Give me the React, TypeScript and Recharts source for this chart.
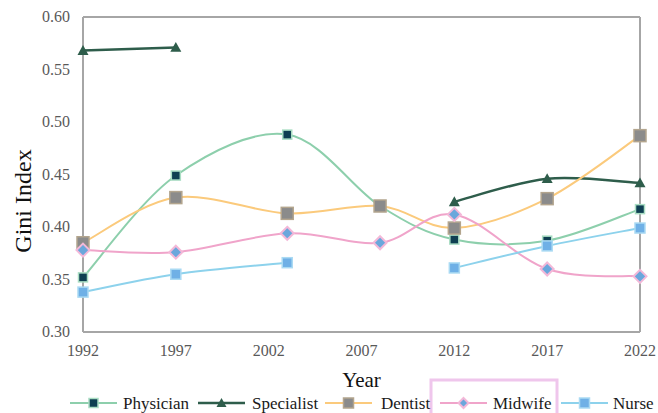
import React from 'react';
import { LineChart, Line, XAxis, YAxis, ReferenceLine } from 'recharts';

const years = [1992, 1997, 2003, 2008, 2012, 2017, 2022];
const physician = [0.352, 0.449, 0.488, 0.420, 0.388, 0.387, 0.417];
const specialist = [0.568, 0.571, null, null, 0.424, 0.446, 0.442];
const dentist = [0.385, 0.428, 0.413, 0.420, 0.399, 0.427, 0.487];
const midwife = [0.378, 0.376, 0.394, 0.385, 0.412, 0.360, 0.353];
const nurse = [0.338, 0.355, 0.366, null, 0.361, 0.382, 0.399];
const xTicks = [1992, 1997, 2002, 2007, 2012, 2017, 2022];
const yTicks = [0.3, 0.35, 0.4, 0.45, 0.5, 0.55, 0.6];

const data = years.map((year, i) => ({
  year,
  Physician: physician[i],
  Specialist: specialist[i],
  Dentist: dentist[i],
  Midwife: midwife[i],
  Nurse: nurse[i],
}));

const FONT = "'Liberation Serif', 'Times New Roman', serif";
const FRAME = '#a6a6a6';

// smoothed line like office charts: cubic bezier with catmull-rom style handles
const smoothCurve = (context: any) => {
  let pts: number[][] = [];
  return {
    areaStart() {},
    areaEnd() {},
    lineStart() { pts = []; },
    point(x: number, y: number) { pts.push([+x, +y]); },
    lineEnd() {
      if (!pts.length) return;
      context.moveTo(pts[0][0], pts[0][1]);
      for (let i = 0; i < pts.length - 1; i++) {
        const p0 = pts[i - 1] || pts[i];
        const p1 = pts[i];
        const p2 = pts[i + 1];
        const p3 = pts[i + 2] || p2;
        context.bezierCurveTo(
          p1[0] + (p2[0] - p0[0]) / 6, p1[1] + (p2[1] - p0[1]) / 6,
          p2[0] - (p3[0] - p1[0]) / 6, p2[1] - (p3[1] - p1[1]) / 6,
          p2[0], p2[1]
        );
      }
    },
  };
};

type Shape = 'square' | 'triangle' | 'diamond';
const series: { key: string; line: string; fill: string; edge: string; shape: Shape; size: number; width: number }[] = [
  { key: 'Physician', line: '#8dcfac', fill: '#0f3f52', edge: '#a9ddc3', shape: 'square', size: 9, width: 2 },
  { key: 'Specialist', line: '#2e5d4b', fill: '#2e5d4b', edge: '#2e5d4b', shape: 'triangle', size: 11, width: 2.5 },
  { key: 'Dentist', line: '#fbca7c', fill: '#8b8b8b', edge: '#b3a58e', shape: 'square', size: 12, width: 2 },
  { key: 'Midwife', line: '#f0a4ca', fill: '#6aa7dc', edge: '#f3b8d8', shape: 'diamond', size: 13, width: 2 },
  { key: 'Nurse', line: '#8dd2ec', fill: '#6fb0e6', edge: '#aadaf3', shape: 'square', size: 10, width: 2 },
];

const Marker = ({ cx, cy, s }: { cx: number; cy: number; s: typeof series[number] }) => {
  if (cx == null || cy == null) return null;
  const h = s.size / 2;
  if (s.shape === 'triangle') {
    return <polygon points={`${cx},${cy - h} ${cx + h},${cy + h * 0.8} ${cx - h},${cy + h * 0.8}`} fill={s.fill} />;
  }
  if (s.shape === 'diamond') {
    return (
      <polygon
        points={`${cx},${cy - h} ${cx + h},${cy} ${cx},${cy + h} ${cx - h},${cy}`}
        fill={s.fill}
        stroke={s.edge}
        strokeWidth={2}
      />
    );
  }
  return <rect x={cx - h} y={cy - h} width={s.size} height={s.size} fill={s.fill} stroke={s.edge} strokeWidth={1.5} />;
};

const Tick = ({ x, y, payload, anchor, dy, fmt }: any) => (
  <text x={x} y={y} dy={dy} textAnchor={anchor} fill="#595959" fontSize={16} fontFamily={FONT}>
    {fmt ? fmt(payload.value) : payload.value}
  </text>
);

const legendPos = [
  { icon: 70, text: 123 },
  { icon: 198, text: 252 },
  { icon: 325, text: 381 },
  { icon: 440, text: 493 },
  { icon: 561, text: 613 },
];

const App: React.FC = () => {
  return (
    <div style={{ position: 'absolute', left: 0, top: 0, width: 658, height: 413, background: '#fff', fontFamily: FONT }}>
      <LineChart width={658} height={413} data={data} margin={{ top: 17, right: 18, left: 0, bottom: 26 }}>
        <XAxis
          dataKey="year"
          type="number"
          domain={[1992, 2022]}
          ticks={xTicks}
          axisLine={{ stroke: FRAME, strokeWidth: 2 }}
          tickLine={false}
          tickSize={0}
          tickMargin={8}
          height={55}
          tick={<Tick anchor="middle" dy={16} />}
          label={{ value: 'Year', position: 'insideBottom', offset: 0, fill: '#111', fontSize: 21, fontFamily: FONT }}
        />
        <YAxis
          type="number"
          domain={[0.3, 0.6]}
          ticks={yTicks}
          axisLine={{ stroke: FRAME, strokeWidth: 2 }}
          tickLine={false}
          tickSize={0}
          tickMargin={13}
          width={83}
          tick={<Tick anchor="end" dy={5} fmt={(v: number) => v.toFixed(2)} />}
          label={{
            content: () => (
              <text x={31} y={201} transform="rotate(-90 31 201)" textAnchor="middle" fill="#111" fontSize={24} fontFamily={FONT}>
                Gini Index
              </text>
            ),
          }}
        />
        <ReferenceLine y={0.6} stroke={FRAME} strokeWidth={2} />
        <ReferenceLine x={2022} stroke={FRAME} strokeWidth={2} />
        {series.map((s) => (
          <Line
            key={s.key}
            dataKey={s.key}
            type={smoothCurve as any}
            stroke={s.line}
            strokeWidth={s.width}
            dot={(p: any) => <Marker key={`${s.key}-${p.index}`} cx={p.cx} cy={p.cy} s={s} />}
            activeDot={false}
            isAnimationActive={false}
          />
        ))}
      </LineChart>
      <svg width={658} height={413} style={{ position: 'absolute', left: 0, top: 0, pointerEvents: 'none' }}>
        <rect x={431} y={380} width={126} height={40} fill="none" stroke="#efc6ec" strokeWidth={3} />
        {series.map((s, i) => {
          const p = legendPos[i];
          const y = 403;
          return (
            <g key={s.key}>
              <line x1={p.icon} y1={y} x2={p.icon + 47} y2={y} stroke={s.line} strokeWidth={s.width} />
              <Marker cx={p.icon + 23.5} cy={y} s={{ ...s, size: Math.min(s.size, 10) }} />
              <text x={p.text} y={y + 6} fontSize={17} fontFamily={FONT} fill="#1a1a1a">
                {s.key}
              </text>
            </g>
          );
        })}
      </svg>
    </div>
  );
};

export default App;
